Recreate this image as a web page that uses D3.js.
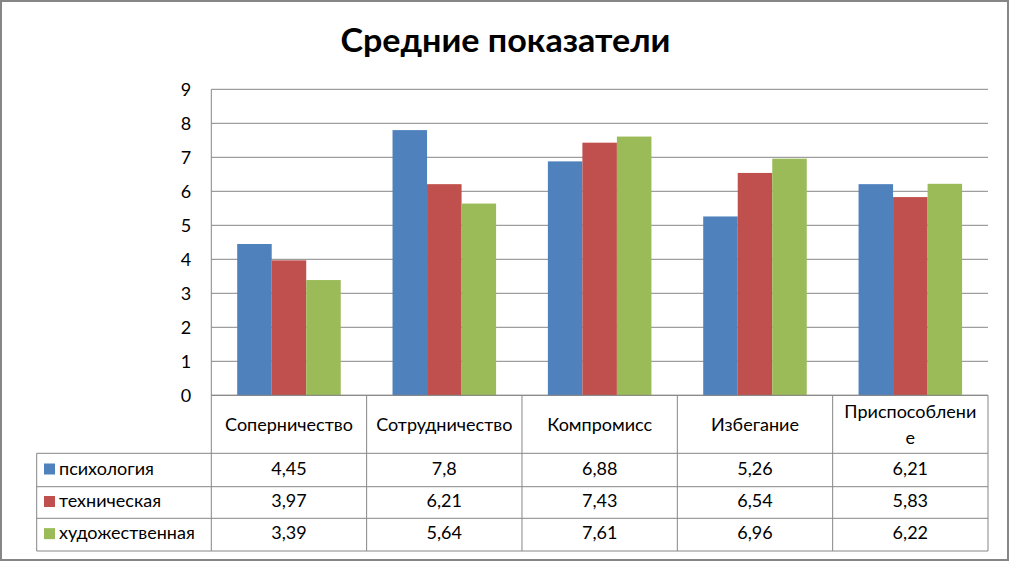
<!DOCTYPE html>
<html><head><meta charset="utf-8">
<script src="https://cdn.jsdelivr.net/npm/d3@7"></script>
<style>body{margin:0;background:#fff}svg{display:block}text{font-family:Lato,"Open Sans",sans-serif;fill:#000}</style>
</head><body>
<script>
const categories = ["Соперничество","Сотрудничество","Компромисс","Избегание","Приспособление"];
const categoryLines = [["Соперничество"],["Сотрудничество"],["Компромисс"],["Избегание"],["Приспособлени","е"]];
const seriesNames = ["психология","техническая","художественная"];
const psych = [4.45,7.8,6.88,5.26,6.21];
const tech = [3.97,6.21,7.43,6.54,5.83];
const art = [3.39,5.64,7.61,6.96,6.22];
const seriesValues = [psych, tech, art];
const colors = ["#4f81bd","#c0504d","#9bbb59"];
const yTicks = [0,1,2,3,4,5,6,7,8,9];

const W=1011,H=562;
const svg=d3.select("body").append("svg").attr("width",W).attr("height",H);
svg.append("rect").attr("x",1).attr("y",1).attr("width",1007).attr("height",559).attr("fill","#fff").attr("stroke","#868686").attr("stroke-width",2);

svg.append("text").attr("x",505.5).attr("y",52).attr("text-anchor","middle")
  .attr("textLength",330).attr("lengthAdjust","spacingAndGlyphs")
  .style("font-size","32px").style("font-weight","bold").text("Средние показатели");

const L=211.3,R=988,T=89.3,B=395.3;
const FS="18px";
const x=d3.scaleBand().domain(categories).range([L,R]);
const y=d3.scaleLinear().domain([0,9]).range([B,T]);
const xs=d3.scaleBand().domain(d3.range(3)).range([0,x.bandwidth()]).paddingInner(0).paddingOuter(0.75);

// gridlines
svg.append("g").selectAll("line").data(yTicks).join("line")
 .attr("x1",L).attr("x2",R).attr("y1",d=>y(d)).attr("y2",d=>y(d)).attr("stroke","#868686").attr("stroke-width",1);
svg.append("line").attr("x1",L).attr("x2",L).attr("y1",T).attr("y2",B).attr("stroke","#868686");

const yAxis=d3.axisLeft(y).tickValues(yTicks).tickSize(0).tickPadding(20);
const ga=svg.append("g").attr("transform",`translate(${L},0)`).call(yAxis);
ga.select(".domain").remove();
ga.selectAll("text").style("font-size",FS).style("font-family","Lato,'Open Sans',sans-serif").attr("fill","#000");

// bars
seriesValues.forEach((vals,si)=>{
  svg.append("g").selectAll("rect").data(vals).join("rect")
   .attr("x",(d,i)=>x(categories[i])+xs(si)).attr("width",xs.bandwidth())
   .attr("y",d=>y(d)).attr("height",d=>B-y(d)).attr("fill",colors[si]);
});

// data table
const rowY=[395.3,453.3,486.7,518.3,551];
const TL=36.7;
const tg=svg.append("g");
const lc="#868686";
tg.append("line").attr("x1",L).attr("x2",R).attr("y1",rowY[0]).attr("y2",rowY[0]).attr("stroke",lc);
[1,2,3,4].forEach(k=>tg.append("line").attr("x1",TL).attr("x2",R).attr("y1",rowY[k]).attr("y2",rowY[k]).attr("stroke",lc));
const colEdges=categories.map(c=>x(c)).concat([R]);
colEdges.forEach(cx=>tg.append("line").attr("x1",cx).attr("x2",cx).attr("y1",rowY[0]).attr("y2",rowY[4]).attr("stroke",lc));
tg.append("line").attr("x1",TL).attr("x2",TL).attr("y1",rowY[1]).attr("y2",rowY[4]).attr("stroke",lc);

categories.forEach((c,i)=>{
  const lines=categoryLines[i];
  const cy=(rowY[0]+rowY[1])/2;
  const lh=26;
  lines.forEach((ln,j)=>{
    tg.append("text").attr("x",x(c)+x.bandwidth()/2).attr("y",cy+(j-(lines.length-1)/2)*lh+6.5)
     .attr("text-anchor","middle").style("font-size",FS).text(ln);
  });
});
seriesNames.forEach((s,si)=>{
  const cy=(rowY[si+1]+rowY[si+2])/2;
  tg.append("rect").attr("x",44).attr("y",cy-6.5).attr("width",11).attr("height",11).attr("fill",colors[si]);
  tg.append("text").attr("x",59).attr("y",cy+4.5).style("font-size",FS).text(s);
  seriesValues[si].forEach((v,i)=>{
    tg.append("text").attr("x",x(categories[i])+x.bandwidth()/2).attr("y",cy+4.5).attr("text-anchor","middle")
     .style("font-size",FS).text(String(v).replace(".",","));
  });
});
</script>
</body></html>
